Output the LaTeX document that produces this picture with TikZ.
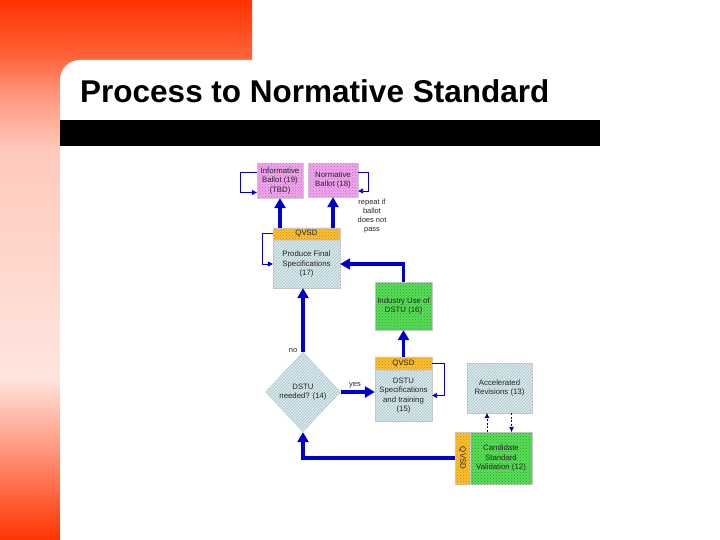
\documentclass[tikz,border=0pt]{standalone}
\usepackage{fontspec}
\setmainfont{Liberation Sans}
\usepackage{tikz}
\usetikzlibrary{arrows.meta,calc,positioning,shapes.geometric,patterns}
\definecolor{slidered}{HTML}{FF3300}
\definecolor{flowblue}{HTML}{0000CC}
\definecolor{flownavy}{HTML}{000080}
\definecolor{ballotpink}{HTML}{EEA6EA}
\definecolor{ballotdot}{HTML}{CC66CC}
\definecolor{specblue}{HTML}{D2F0F6}
\definecolor{usegreen}{HTML}{5CDC5C}
\definecolor{usedot}{HTML}{1FA81F}
\definecolor{qvsdorange}{HTML}{F8C030}
\definecolor{qvsddot}{HTML}{E08800}
\pgfdeclareverticalshading{slidefade}{100bp}{color(0bp)=(slidered); color(25bp)=(slidered);
  color(40bp)=(slidered!13); color(61bp)=(slidered!26); color(66bp)=(slidered!50);
  color(70bp)=(slidered!78); color(75bp)=(slidered); color(100bp)=(slidered)}

\begin{document}
\begin{tikzpicture}[x=1pt, y=-1pt,
    flowbox/.style={draw=black!20, line width=0.3pt, inner sep=1pt, align=center,
      text=black!85, font=\fontsize{7.8}{9.5}\selectfont},
    pinkbox/.style={flowbox, fill=ballotpink, postaction={pattern=crosshatch dots, pattern color=ballotdot}},
    specbox/.style={flowbox, fill=specblue, postaction={pattern=north east lines, pattern color=black!28}},
    usebox/.style={flowbox, fill=usegreen, postaction={pattern=crosshatch dots, pattern color=usedot}},
    qvsdbar/.style={flowbox, fill=qvsdorange, postaction={pattern=crosshatch dots, pattern color=qvsddot}},
    fatarrow/.style={-{Triangle[length=10pt,width=11pt]}, line width=3.6pt, draw=flowblue},
    looparrow/.style={-{Triangle[length=5pt,width=5pt]}, line width=0.9pt, draw=flowblue},
    dotarrow/.style={-{Triangle[length=5pt,width=4.5pt]}, line width=0.8pt, draw=flownavy, dash pattern=on 2pt off 1.5pt},
    note/.style={font=\fontsize{7.5}{9}\selectfont, text=black!85, align=center, inner sep=0pt}]
\useasboundingbox (0,0) rectangle (720,540);
% slide background
\shade[shading=slidefade] (0,0) rectangle (252,540);
\fill[white, rounded corners=20pt] (60,60) rectangle (780,600);
\fill[black] (60,120) rectangle (600,146);
\node[anchor=base west, inner sep=0pt, font=\fontsize{31.5}{34}\selectfont\bfseries] (title) at (80,103) {Process to Normative Standard};

% ballots
\node[pinkbox, minimum width=46pt, minimum height=35pt] (infb) at (280,180.5) {Informative\\Ballot (19)\\(TBD)};
\node[pinkbox, minimum width=50pt, minimum height=34pt] (normb) at (333,180) {Normative\\Ballot (18)};
% final specifications
\node[specbox, minimum width=67pt, minimum height=48pt] (prodfs) at (306.5,264) {Produce Final\\Specifications\\(17)};
\node[qvsdbar, minimum width=67pt, minimum height=12pt, above=0pt of prodfs] (qvsdA) {QVSD};
% DSTU
\node[usebox, minimum width=57pt, minimum height=48pt] (indu) at (403.5,306) {Industry Use of\\DSTU (16)};
\node[specbox, minimum width=57pt, minimum height=51pt] (dstuspec) at (403.5,395.5) {DSTU\\Specifications\\and training\\(15)};
\node[qvsdbar, minimum width=57pt, minimum height=13pt, above=0pt of dstuspec] (qvsdB) {QVSD};
\node[specbox, diamond, minimum width=75pt, minimum height=80pt, inner sep=0pt] (dstuq) at (303,392) {DSTU\\needed? (14)};
% candidate
\node[specbox, minimum width=65pt, minimum height=50pt] (accrev) at (499.5,388) {Accelerated\\Revisions (13)};
\node[usebox, minimum width=62pt, minimum height=52pt] (candval) at (501,458) {Candidate\\Standard\\Validation (12)};
\node[qvsdbar, rotate=-90, minimum width=52pt, minimum height=15pt, inner sep=0pt] (qvsdC) at ($(candval.west)+(-7.5,0)$) {QVSD};

\draw[fatarrow] (qvsdA.north -| infb.south) -- (infb.south);
\draw[fatarrow] (qvsdA.north -| normb.south) -- (normb.south);
\draw[fatarrow] (indu.north) |- (prodfs.east);
\draw[fatarrow] (qvsdB.north) -- (indu.south);
\draw[fatarrow] (dstuq.north) -- (dstuq.north |- prodfs.south);
\draw[fatarrow] (dstuq.east) -- (dstuq.east -| dstuspec.west);
\draw[fatarrow] (qvsdC.south) -| (dstuq.south);

\draw[looparrow] ([yshift=8pt]infb.west) -- ++(-16,0) |- ([yshift=-12pt]infb.west);
\draw[looparrow] ([yshift=8pt]normb.east) -- ++(10,0) |- ([yshift=-11pt]normb.east);
\draw[looparrow] (qvsdA.west) -- ++(-10,0) |- (prodfs.west);
\draw[looparrow] (qvsdB.east) -- ++(12,0) |- (dstuspec.east);

\coordinate (vup) at ([xshift=-14pt]candval.north);
\coordinate (vdown) at ([xshift=12pt]accrev.south);
\draw[dotarrow] (vup) -- (vup |- accrev.south);
\draw[dotarrow] (vdown) -- (vdown |- candval.north);

\node[note] (nolbl) at (293,351) {no};
\node[note] (yeslbl) at (355,385) {yes};
\node[note] (repeatlbl) at (372,216) {repeat if\\ballot\\does not\\pass};
\end{tikzpicture}
\end{document}
